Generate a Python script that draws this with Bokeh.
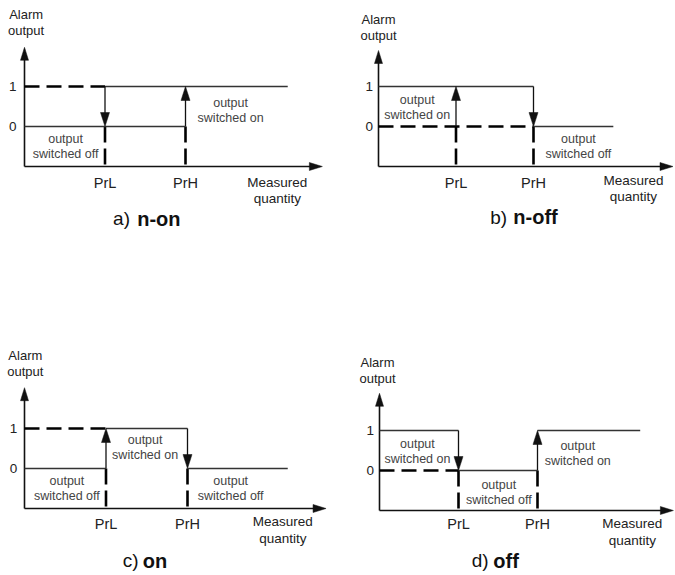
from bokeh.plotting import figure
from bokeh.layouts import row, column
from bokeh.models import Range1d
from bokeh.core.properties import value
from bokeh.embed import file_html
from bokeh.resources import INLINE

# ---------------- data ----------------
PRL, PRH = 1.0, 2.0          # thresholds on the measured quantity axis
OFF, ON, BASE = 0, 1, -1     # output levels, baseline of the diagram

panel_prefix = ["a)", "b)", "c)", "d)"]
panel_mode = ["n-on", "n-off", "on", "off"]

line_end = [3.27, 3.03, 3.23, 3.30]      # where the output trace ends
x_axis_end = [3.70, 3.80, 3.70, 3.72]    # tip of the measured-quantity arrow
y_axis_end = [1.98, 1.90, 2.02, 1.93]    # tip of the alarm-output arrow

# solid output-level segments
solid_x0 = [[PRL, 0.0], [0.0, PRH], [0.0, PRL, PRH], [0.0, PRL, PRH]]
solid_x1 = [[3.27, PRH], [PRH, 3.03], [PRL, PRH, 3.23], [PRL, PRH, 3.30]]
solid_lv = [[ON, OFF], [ON, OFF], [OFF, ON, OFF], [ON, OFF, ON]]

# heavy dashed level segments (power-on state)
dash_x0 = [[0.0], [0.0], [0.0], [0.0]]
dash_x1 = [[PRL], [PRH], [PRL], [PRL]]
dash_lv = [[ON], [OFF], [ON], [OFF]]

# switching arrows
sw_x = [[PRL, PRH], [PRL, PRH], [PRL, PRH], [PRL, PRH]]
sw_from = [[ON, OFF], [OFF, ON], [OFF, ON], [ON, OFF]]
sw_to = [[OFF, ON], [ON, OFF], [ON, OFF], [OFF, ON]]

# annotation texts (two lines each)
note_line1 = [["output", "output"], ["output", "output"],
              ["output", "output", "output"], ["output", "output", "output"]]
note_line2 = [["switched off", "switched on"], ["switched on", "switched off"],
              ["switched off", "switched on", "switched off"],
              ["switched on", "switched off", "switched on"]]

# ---------------- layout (positions only) ----------------
SY = 40.0
geom = [  # fig left, fig top, width, height, origin x, origin y, px per x unit
    (0, 0, 345, 330, 24, 166, 80.5),
    (345, 0, 329, 330, 378, 166, 77.5),
    (0, 330, 345, 244, 24, 508, 81.5),
    (345, 330, 329, 244, 379, 510, 79.0),
]
note_x = [[0.51, 2.56], [0.50, 2.58], [0.52, 1.48, 2.53], [0.48, 1.51, 2.51]]
note_y = [[-0.30, 0.60], [0.675, -0.30], [-0.30, 0.725, -0.30], [0.675, -0.35, 0.625]]
alarm_xy = [(0.02, 2.80), (0.0, 2.675), (0.01, 2.825), (-0.025, 2.70)]
num_x = [-0.10, -0.07, -0.09, -0.07]
thr_y = [-1.40, -1.40, -1.375, -1.33]
meas_xy = [(3.14, -1.40), (3.29, -1.35), (3.17, -1.33), (3.20, -1.33)]
title_xy = [(1.31, 1.40, -2.30), (1.66, 1.74, -2.27), (1.40, 1.45, -2.30), (1.38, 1.44, -2.25)]

FONT = value("Liberation Sans")


def make_panel(i):
    fl, ft, w, h, ox, oy, sx = geom[i]
    x0 = (fl - ox) / sx
    y1 = BASE + (oy - ft) / SY
    p = figure(width=w, height=h,
               x_range=Range1d(x0, x0 + w / sx),
               y_range=Range1d(y1 - h / SY, y1),
               output_backend="svg", toolbar_location=None, tools="",
               x_axis_location=None, y_axis_location=None, min_border=0)
    p.grid.visible = False
    p.outline_line_color = None
    p.background_fill_color = "white"

    # axis arrows
    ahl_x, ahl_y = 13 / sx, 13 / SY
    ahw_x, ahw_y = 4 / sx, 4 / SY
    p.segment(x0=[0, 0], y0=[BASE, BASE], x1=[x_axis_end[i] - ahl_x * 0.5, 0],
              y1=[BASE, y_axis_end[i] - ahl_y * 0.5], line_color="#111", line_width=1.6)
    xa, ya = x_axis_end[i], y_axis_end[i]
    p.patches(xs=[[xa, xa - ahl_x, xa - ahl_x], [0, -ahw_x, ahw_x]],
              ys=[[BASE, BASE + ahw_y, BASE - ahw_y], [ya, ya - ahl_y, ya - ahl_y]],
              fill_color="#111", line_color="#111", line_width=0.5)

    # heavy dashed verticals below the thresholds
    p.segment(x0=[PRL, PRH], y0=[OFF, OFF], x1=[PRL, PRH], y1=[BASE, BASE],
              line_color="black", line_width=2.6, line_dash="16 6")

    # solid output levels
    p.segment(x0=solid_x0[i], x1=solid_x1[i], y0=solid_lv[i], y1=solid_lv[i],
              line_color="#333", line_width=1.3)
    # dashed initial levels
    p.segment(x0=dash_x0[i], x1=dash_x1[i], y0=dash_lv[i], y1=dash_lv[i],
              line_color="black", line_width=2.6, line_dash="15 7")

    # switching arrows
    hl, hw = 14 / SY, 4.5 / sx
    shaft_end, hx, hy = [], [], []
    for xv, f, t in zip(sw_x[i], sw_from[i], sw_to[i]):
        sgn = 1 if t > f else -1
        shaft_end.append(t - sgn * hl * 0.6)
        hx.append([xv, xv - hw, xv + hw])
        hy.append([t, t - sgn * hl, t - sgn * hl])
    p.segment(x0=sw_x[i], y0=sw_from[i], x1=sw_x[i], y1=shaft_end,
              line_color="#111", line_width=1.3)
    p.patches(xs=hx, ys=hy, fill_color="#111", line_color="#111", line_width=0.5)

    # texts
    p.text(x=note_x[i], y=note_y[i], text=note_line1[i], text_font=FONT,
           text_font_size="12.5px", text_align="center", text_baseline="middle",
           text_color="#444")
    p.text(x=note_x[i], y=[v - 0.375 for v in note_y[i]], text=note_line2[i],
           text_font=FONT, text_font_size="12.5px", text_align="center",
           text_baseline="middle", text_color="#444")
    ax, ay = alarm_xy[i]
    p.text(x=[ax, ax], y=[ay, ay - 0.41], text=["Alarm", "output"], text_font=FONT,
           text_font_size="13px", text_align="center", text_baseline="middle",
           text_color="#222")
    p.text(x=[num_x[i], num_x[i]], y=[ON, OFF], text=["1", "0"], text_font=FONT,
           text_font_size="13.5px", text_align="right", text_baseline="middle",
           text_color="#222")
    p.text(x=[PRL, PRH], y=[thr_y[i], thr_y[i]], text=["PrL", "PrH"], text_font=FONT,
           text_font_size="14.5px", text_align="center", text_baseline="middle",
           text_color="#222")
    mx, my = meas_xy[i]
    p.text(x=[mx, mx], y=[my, my - 0.41], text=["Measured", "quantity"], text_font=FONT,
           text_font_size="13.5px", text_align="center", text_baseline="middle",
           text_color="#222")
    tx1, tx2, ty = title_xy[i]
    p.text(x=[tx1], y=[ty], text=[panel_prefix[i]], text_font=FONT,
           text_font_size="19px", text_align="right", text_baseline="middle",
           text_color="#111")
    p.text(x=[tx2], y=[ty], text=[panel_mode[i]], text_font=FONT,
           text_font_size="20px", text_font_style="bold", text_align="left",
           text_baseline="middle", text_color="#111")
    return p


figs = [make_panel(i) for i in range(4)]
layout = row(column(figs[0], figs[2]), column(figs[1], figs[3]))

open("out.html", "w").write(file_html(layout, INLINE))
